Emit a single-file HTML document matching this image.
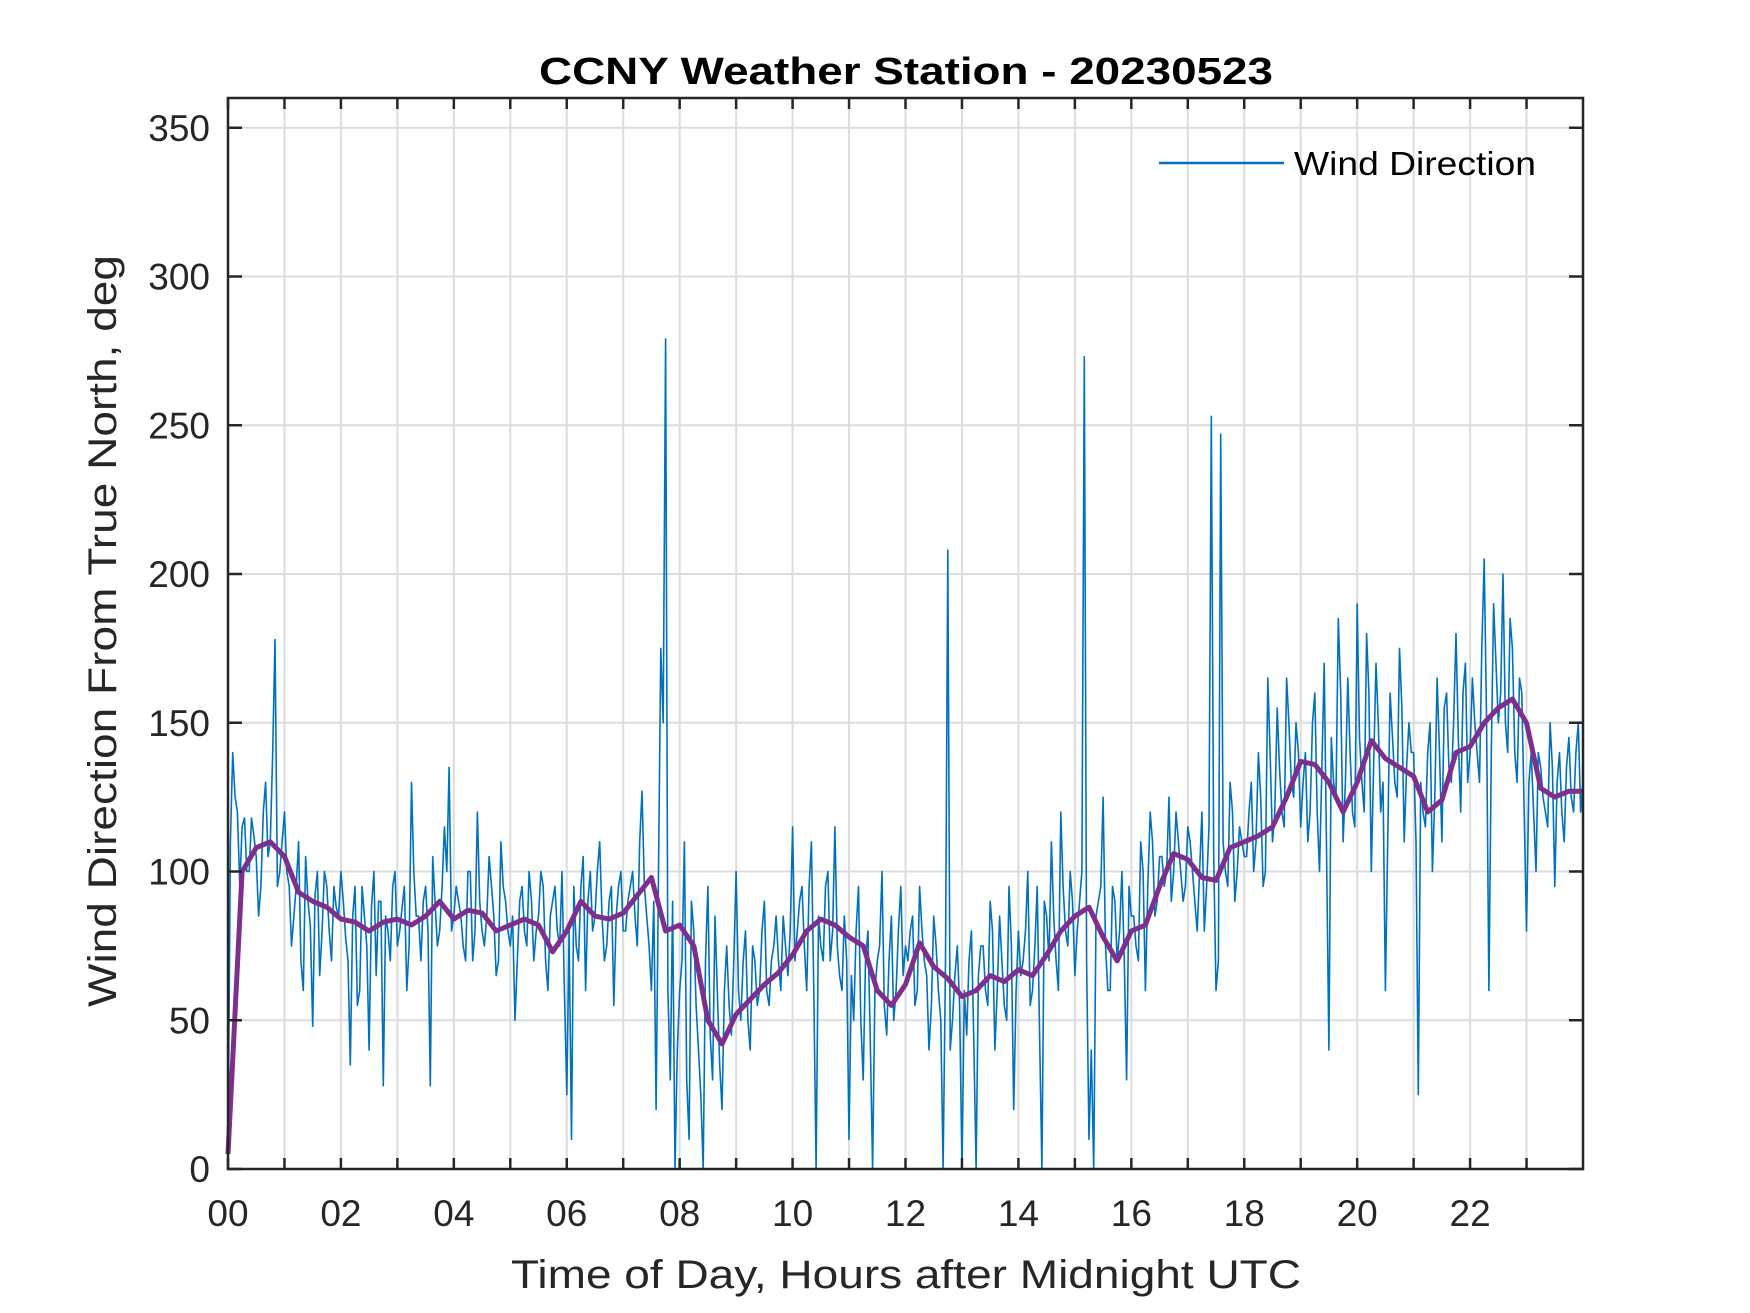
<!DOCTYPE html>
<html><head><meta charset="utf-8"><style>
html,body{margin:0;padding:0;background:#fff;width:1750px;height:1313px;overflow:hidden}
svg text{font-family:"Liberation Sans",Arial,sans-serif;fill:#262626}
</style></head><body>
<svg id="chart" width="1750" height="1313" viewBox="0 0 1750 1313" xmlns="http://www.w3.org/2000/svg">
<rect width="1750" height="1313" fill="#fff"/>
<g id="grid"></g>
<g id="series"></g>
<g id="axes"></g>
<text x="906" y="84" text-anchor="middle" font-size="38" font-weight="bold" style="fill:#000" textLength="734" lengthAdjust="spacingAndGlyphs">CCNY Weather Station - 20230523</text>
<text x="906" y="1288" text-anchor="middle" font-size="40" textLength="790" lengthAdjust="spacingAndGlyphs">Time of Day, Hours after Midnight UTC</text>
<text transform="translate(116,631) rotate(-90)" text-anchor="middle" font-size="40" textLength="752" lengthAdjust="spacingAndGlyphs">Wind Direction From True North, deg</text>
<g>
<line x1="1159" y1="163" x2="1284" y2="163" stroke="#0072BD" stroke-width="2.5"/>
<text x="1294" y="175" font-size="33" style="fill:#000" textLength="242" lengthAdjust="spacingAndGlyphs">Wind Direction</text>
</g>
</svg>
<script>
const xTicks=[0,2,4,6,8,10,12,14,16,18,20,22];
const xTickLabels=["00","02","04","06","08","10","12","14","16","18","20","22"];
const yTicks=[0,50,100,150,200,250,300,350];
const windRaw=[
5,140,120,115,100,118,105,95,130,110,178,100,
120,95,85,110,60,90,48,100,80,95,70,88,
100,78,35,95,60,85,40,100,90,28,80,95,
75,88,60,130,85,70,95,28,90,80,115,135,
85,90,75,100,70,120,80,85,95,65,110,90,
75,50,90,80,100,70,85,95,60,90,80,100,
25,10,75,95,60,100,85,110,70,90,55,95,
80,90,100,75,127,85,60,20,175,279,30,0,
60,110,10,80,40,0,95,30,60,20,75,45,
100,50,80,40,70,60,90,55,75,70,85,65,
115,80,95,60,110,0,75,95,70,115,65,85,
10,50,95,30,80,0,70,100,45,85,60,95,
75,80,55,95,70,40,85,60,0,208,50,75,
0,45,80,0,75,60,90,40,85,55,95,20,
80,70,100,60,95,0,85,110,70,120,80,100,
65,90,273,10,0,90,125,60,95,70,100,30,
85,75,110,60,120,85,105,95,125,100,110,90,
115,100,80,120,95,253,60,247,100,130,90,115,
105,120,100,140,95,165,110,155,120,165,130,150,
115,140,120,160,100,170,40,130,185,110,165,120,
190,130,180,100,170,120,60,160,130,175,110,150,
140,25,120,140,100,165,110,160,130,180,120,170,
140,150,130,205,60,190,150,200,140,175,130,160,
80,140,100,135,120,150,95,140,110,145,120,150,130];
const windRawMid=[
110,125,95,118,100,112,85,120,105,140,95,110,
100,75,95,70,105,82,92,65,100,80,95,85,
90,70,85,55,95,75,88,65,90,85,70,100,
80,95,75,100,85,90,80,105,75,95,100,80,
95,85,70,100,80,90,75,105,85,70,95,80,
85,70,95,75,90,80,100,70,85,95,75,60,
80,95,70,105,90,80,100,85,75,95,85,100,
80,95,85,110,95,75,90,100,150,60,90,40,
70,30,90,55,25,70,45,85,35,60,55,70,
60,70,50,75,55,80,60,70,85,60,75,80,
70,90,75,95,60,85,70,100,80,75,60,70,
65,80,50,70,45,60,75,55,70,50,80,65,
70,85,60,80,65,55,75,50,70,40,65,55,
60,70,45,65,75,55,80,60,70,50,75,60,
65,80,55,75,45,90,70,85,60,95,75,90,
80,100,70,40,85,95,75,60,90,80,70,95,
85,70,100,95,110,90,105,100,90,120,100,95,
110,90,100,80,115,105,70,110,95,120,100,110,
105,130,110,125,100,140,120,135,115,150,125,140,
130,110,150,120,135,105,145,125,160,130,140,115,
145,120,160,135,150,130,110,145,125,155,135,140,
110,130,115,150,125,140,155,135,150,145,160,130,
165,140,175,150,140,170,160,150,185,140,165,120,
130,120,140,125,115,135,130,120,135,125,140,120];
const windSmooth=[5,100,108,110,105,93,90,88,84,83,80,83,84,82,85,90,84,87,86,80,82,84,82,73,80,90,85,84,86,92,98,80,82,75,50,42,52,57,62,66,72,80,84,82,78,75,60,55,62,76,68,64,58,60,65,63,67,65,72,80,85,88,78,70,80,82,95,106,104,98,97,108,110,112,115,125,137,136,130,120,130,144,138,135,132,120,124,140,142,150,155,158,150,128,125,127,127];
const L=228,R=1583,T=98,B=1169;
const xs=h=>L+(R-L)*h/24;
const ys=v=>B-(B-T)*v/360;
const NS="http://www.w3.org/2000/svg";
function mk(tag,attrs,parent){const e=document.createElementNS(NS,tag);for(const k in attrs)e.setAttribute(k,attrs[k]);parent.appendChild(e);return e;}
const grid=document.getElementById('grid'),axes=document.getElementById('axes'),series=document.getElementById('series');
for(let h=0;h<24;h++){const x=xs(h);
const g=mk('line',{x1:x,y1:T,x2:x,y2:B,stroke:'#dcdcdc','stroke-width':2},grid);


[[B,B-11],[T,T+11]].forEach(p=>{const t=mk('line',{x1:x,y1:p[0],x2:x,y2:p[1],stroke:'#262626','stroke-width':2.5},axes);

});}
xTicks.forEach((h,i)=>{const t=mk('text',{x:xs(h),y:1226,'text-anchor':'middle','font-size':37},axes);t.textContent=xTickLabels[i];

});
yTicks.forEach(v=>{const y=ys(v);
const g=mk('line',{x1:L,y1:y,x2:R,y2:y,stroke:'#dcdcdc','stroke-width':2},grid);


[[L,L+14],[R,R-14]].forEach(p=>{const t=mk('line',{x1:p[0],y1:y,x2:p[1],y2:y,stroke:'#262626','stroke-width':2.5},axes);

});
const t=mk('text',{x:210,y:y+13,'text-anchor':'end','font-size':37},axes);t.textContent=v;

});
const frame=mk('rect',{x:L,y:T,width:R-L,height:B-T,fill:'none',stroke:'#262626','stroke-width':2.5},axes);


const step=24/(windRaw.length-1);
const pts=[];
windRaw.forEach((v,i)=>{pts.push([i*step,v]);if(i<windRawMid.length)pts.push([(i+0.5)*step,windRawMid[i]]);});
const dRaw=pts.map((p,i)=>(i?'L':'M')+xs(p[0]).toFixed(1)+','+ys(p[1]).toFixed(1)).join('');
const p1=mk('path',{d:dRaw,fill:'none',stroke:'#0072BD','stroke-width':1.6,'stroke-linejoin':'round'},series);


const dS=windSmooth.map((v,i)=>(i?'L':'M')+xs(i*24/(windSmooth.length-1)).toFixed(1)+','+ys(v).toFixed(1)).join('');
const p2=mk('path',{d:dS,fill:'none',stroke:'#7E2F8E','stroke-width':5,'stroke-linejoin':'round'},series);


</script>
</body></html>
